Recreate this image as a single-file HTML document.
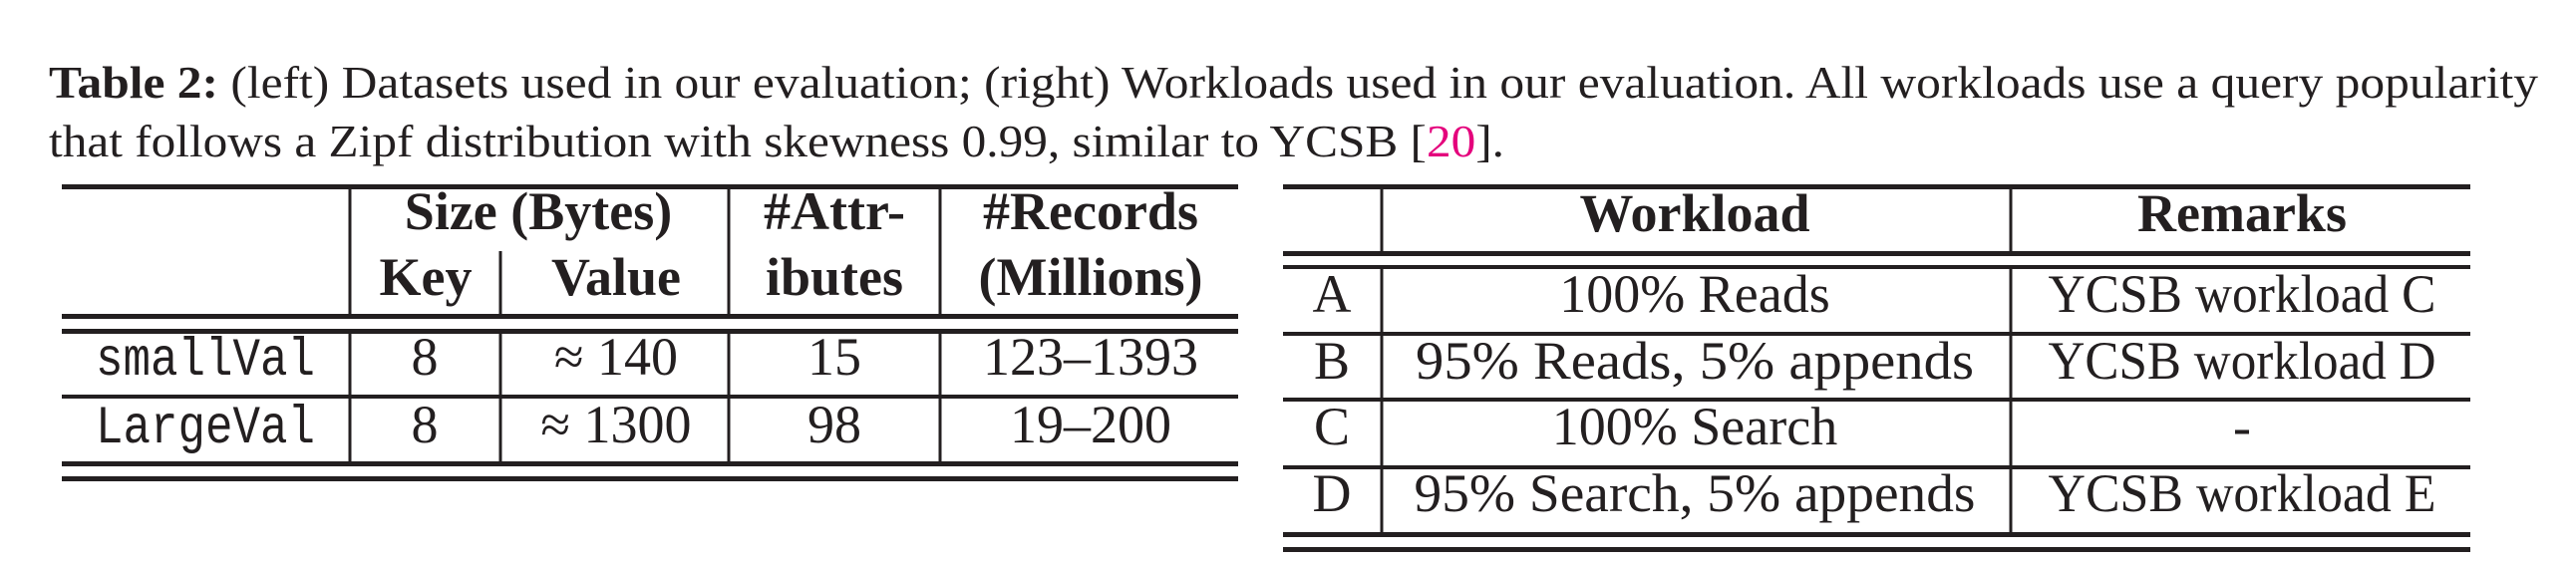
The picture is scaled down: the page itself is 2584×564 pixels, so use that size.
<!DOCTYPE html>
<html><head><meta charset="utf-8"><style>
html,body{margin:0;padding:0;background:#fff;}
svg{display:block;}
text{font-family:"Liberation Serif",serif;font-size:46px;fill:#231f20;}
.t text{font-size:54px;}
.b{font-weight:bold;}
.m{font-family:"Liberation Mono",monospace;}
</style></head><body>
<svg width="2584" height="564" viewBox="0 0 2584 564">
<g>
<text x="49" y="98" textLength="2497" lengthAdjust="spacingAndGlyphs"><tspan class="b">Table 2:</tspan> (left) Datasets used in our evaluation; (right) Workloads used in our evaluation. All workloads use a query popularity</text>
<text x="49" y="157" textLength="1460" lengthAdjust="spacingAndGlyphs">that follows a Zipf distribution with skewness 0.99, similar to YCSB [<tspan fill="#e4007c" style="fill:#e4007c">20</tspan>].</text>
</g>
<g stroke="#231f20">
<rect x="62" y="185" width="1180" height="5" fill="#231f20" stroke="none"/>
<rect x="62" y="315" width="1180" height="5" fill="#231f20" stroke="none"/>
<rect x="62" y="330" width="1180" height="5" fill="#231f20" stroke="none"/>
<rect x="62" y="396" width="1180" height="4" fill="#231f20" stroke="none"/>
<rect x="62" y="463" width="1180" height="5" fill="#231f20" stroke="none"/>
<rect x="62" y="478" width="1180" height="5" fill="#231f20" stroke="none"/>
<line x1="351" y1="188" x2="351" y2="317" stroke-width="3"/>
<line x1="351" y1="333" x2="351" y2="465" stroke-width="3"/>
<line x1="502" y1="252" x2="502" y2="317" stroke-width="3"/>
<line x1="502" y1="333" x2="502" y2="465" stroke-width="3"/>
<line x1="731" y1="188" x2="731" y2="317" stroke-width="3"/>
<line x1="731" y1="333" x2="731" y2="465" stroke-width="3"/>
<line x1="943" y1="188" x2="943" y2="317" stroke-width="3"/>
<line x1="943" y1="333" x2="943" y2="465" stroke-width="3"/>
</g>
<g class="t" text-anchor="middle">
<text class="b" x="540" y="230">Size (Bytes)</text>
<text class="b" x="837" y="230">#Attr-</text>
<text class="b" x="1094" y="230">#Records</text>
<text class="b" x="427" y="296">Key</text>
<text class="b" x="618" y="296">Value</text>
<text class="b" x="837" y="296">ibutes</text>
<text class="b" x="1094" y="296">(Millions)</text>
<text class="m" x="206" y="376" textLength="220" lengthAdjust="spacingAndGlyphs">smallVal</text>
<text x="426" y="376">8</text>
<text x="618" y="376">≈ 140</text>
<text x="837" y="376">15</text>
<text x="1094" y="376">123–1393</text>
<text class="m" x="206" y="444" textLength="220" lengthAdjust="spacingAndGlyphs">LargeVal</text>
<text x="426" y="444">8</text>
<text x="618" y="444">≈ 1300</text>
<text x="837" y="444">98</text>
<text x="1094" y="444">19–200</text>
</g>
<g stroke="#231f20">
<rect x="1287" y="185" width="1191" height="5" fill="#231f20" stroke="none"/>
<rect x="1287" y="252" width="1191" height="5" fill="#231f20" stroke="none"/>
<rect x="1287" y="266" width="1191" height="4" fill="#231f20" stroke="none"/>
<rect x="1287" y="333" width="1191" height="4" fill="#231f20" stroke="none"/>
<rect x="1287" y="399" width="1191" height="4" fill="#231f20" stroke="none"/>
<rect x="1287" y="467" width="1191" height="4" fill="#231f20" stroke="none"/>
<rect x="1287" y="534" width="1191" height="5" fill="#231f20" stroke="none"/>
<rect x="1287" y="549" width="1191" height="5" fill="#231f20" stroke="none"/>
<line x1="1386" y1="188" x2="1386" y2="254" stroke-width="3"/>
<line x1="1386" y1="268" x2="1386" y2="536" stroke-width="3"/>
<line x1="2017" y1="188" x2="2017" y2="254" stroke-width="3"/>
<line x1="2017" y1="268" x2="2017" y2="536" stroke-width="3"/>
</g>
<g class="t" text-anchor="middle">
<text class="b" x="1700" y="232">Workload</text>
<text class="b" x="2249" y="232">Remarks</text>
<text x="1336" y="313">A</text>
<text x="1700" y="313">100% Reads</text>
<text x="2249" y="313" textLength="389" lengthAdjust="spacingAndGlyphs">YCSB workload C</text>
<text x="1336" y="380">B</text>
<text x="1700" y="380" textLength="560" lengthAdjust="spacingAndGlyphs">95% Reads, 5% appends</text>
<text x="2249" y="380" textLength="389" lengthAdjust="spacingAndGlyphs">YCSB workload D</text>
<text x="1336" y="446">C</text>
<text x="1700" y="446">100% Search</text>
<text x="2249" y="446">-</text>
<text x="1336" y="513">D</text>
<text x="1700" y="513" textLength="563" lengthAdjust="spacingAndGlyphs">95% Search, 5% appends</text>
<text x="2249" y="513" textLength="389" lengthAdjust="spacingAndGlyphs">YCSB workload E</text>
</g>
</svg>
</body></html>
